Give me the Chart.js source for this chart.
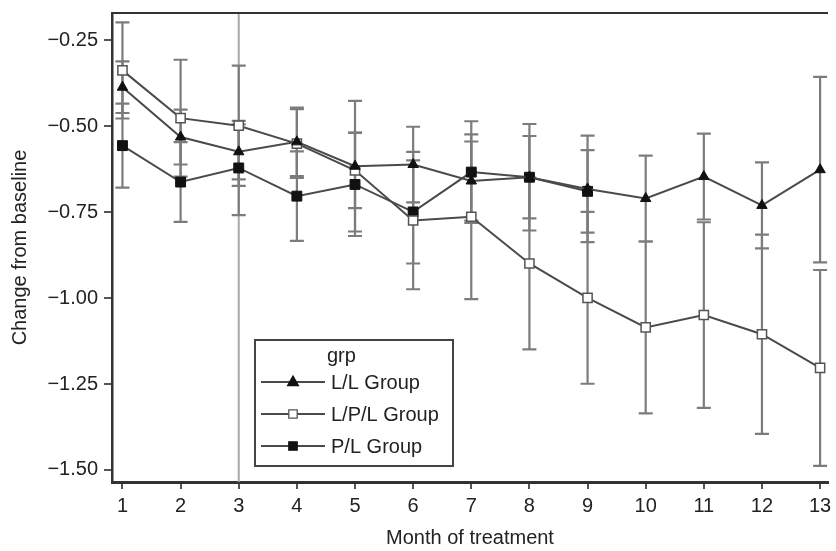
<!DOCTYPE html>
<html>
<head>
<meta charset="utf-8">
<script src="https://cdn.jsdelivr.net/npm/chart.js@4.4.1/dist/chart.umd.min.js"></script>
<style>
  body { margin: 0; background: #fff; }
</style>
</head>
<body>
<canvas id="chart" width="836" height="551"></canvas>
<script>
// months on the x axis
const months = [1, 2, 3, 4, 5, 6, 7, 8, 9, 10, 11, 12, 13];
const yTicks = [-0.25, -0.5, -0.75, -1.0, -1.25, -1.5];
const refMonth = 3;

// group means and half-widths of the error bars
const llMean = [-0.386, -0.531, -0.574, -0.545, -0.616, -0.611, -0.659, -0.648, -0.682, -0.710, -0.646, -0.730, -0.626];
const llErr = [0.075, 0.08, 0.08, 0.10, 0.19, 0.11, 0.115, 0.155, 0.155, 0.125, 0.125, 0.125, 0.27];
const lplMean = [-0.337, -0.476, -0.498, -0.55, -0.628, -0.774, -0.763, -0.899, -0.999, -1.085, -1.049, -1.105, -1.203];
const lplErr = [0.14, 0.17, 0.175, 0.10, 0.11, 0.20, 0.24, 0.25, 0.25, 0.25, 0.27, 0.29, 0.285];
const plMean = [-0.556, -0.662, -0.621, -0.703, -0.669, -0.749, -0.633, -0.648, -0.689];
const plErr = [0.122, 0.116, 0.137, 0.13, 0.15, 0.15, 0.148, 0.12, 0.12];

const groupLabels = ['L/L Group', 'L/P/L Group', 'P/L Group'];
const legendTitle = 'grp';

const FONT = '"Liberation Sans", Arial, sans-serif';
const LINE = '#4a4a4a';

const toPoints = (mean) => mean.map((v, i) => ({ x: months[i], y: v }));

// vertical line at month 3, error bars, top frame line
const extras = {
  id: 'extras',
  beforeDatasetsDraw(chart) {
    const { ctx, chartArea, scales: { x, y } } = chart;
    ctx.save();
    const rx = x.getPixelForValue(refMonth);
    ctx.strokeStyle = '#a8a8a8';
    ctx.lineWidth = 2;
    ctx.beginPath();
    ctx.moveTo(rx, chartArea.top);
    ctx.lineTo(rx, chartArea.bottom);
    ctx.stroke();

    ctx.strokeStyle = '#7c7c7c';
    ctx.lineWidth = 2.2;
    chart.data.datasets.forEach(ds => {
      ds.data.forEach((p, i) => {
        const e = ds.errors[i];
        const px = x.getPixelForValue(p.x);
        const top = y.getPixelForValue(p.y + e);
        const bot = y.getPixelForValue(p.y - e);
        ctx.beginPath();
        ctx.moveTo(px, top); ctx.lineTo(px, bot);
        ctx.moveTo(px - 7, top); ctx.lineTo(px + 7, top);
        ctx.moveTo(px - 7, bot); ctx.lineTo(px + 7, bot);
        ctx.stroke();
      });
    });
    ctx.restore();
  },
  afterDraw(chart) {
    const { ctx, chartArea } = chart;
    ctx.save();
    ctx.strokeStyle = '#333';
    ctx.lineWidth = 2;
    ctx.beginPath();
    ctx.moveTo(chartArea.left, chartArea.top);
    ctx.lineTo(chartArea.right, chartArea.top);
    ctx.stroke();
    ctx.restore();
  }
};

function marker(ctx, style, x, y, r, fill, stroke) {
  ctx.beginPath();
  if (style === 'triangle') {
    ctx.moveTo(x, y - r);
    ctx.lineTo(x + r * 0.9, y + r * 0.6);
    ctx.lineTo(x - r * 0.9, y + r * 0.6);
    ctx.closePath();
  } else {
    ctx.rect(x - r * 0.7, y - r * 0.7, r * 1.4, r * 1.4);
  }
  ctx.fillStyle = fill;
  ctx.fill();
  ctx.strokeStyle = stroke;
  ctx.lineWidth = 1.3;
  ctx.stroke();
}

// boxed legend inside the plot
const boxLegend = {
  id: 'boxLegend',
  afterDraw(chart) {
    const { ctx } = chart;
    const bx = 255, by = 340, bw = 198, bh = 126;
    ctx.save();
    ctx.fillStyle = '#fff';
    ctx.fillRect(bx, by, bw, bh);
    ctx.strokeStyle = '#444';
    ctx.lineWidth = 2;
    ctx.strokeRect(bx, by, bw, bh);
    ctx.fillStyle = '#222';
    ctx.font = '20px ' + FONT;
    ctx.textBaseline = 'alphabetic';
    ctx.fillText(legendTitle, 327, 362);
    chart.data.datasets.forEach((ds, i) => {
      const cy = 382 + i * 32;
      ctx.strokeStyle = LINE;
      ctx.lineWidth = 2;
      ctx.beginPath();
      ctx.moveTo(261, cy);
      ctx.lineTo(325, cy);
      ctx.stroke();
      marker(ctx, ds.pointStyle, 293, cy, 6, ds.pointBackgroundColor, ds.pointBorderColor);
      ctx.fillStyle = '#222';
      ctx.textBaseline = 'middle';
      ctx.fillText(ds.label, 331, cy + 1);
    });
    ctx.restore();
  }
};

new Chart(document.getElementById('chart'), {
  type: 'line',
  data: {
    datasets: [
      {
        label: groupLabels[0], data: toPoints(llMean), errors: llErr,
        borderColor: LINE, borderWidth: 2,
        pointStyle: 'triangle', pointRadius: 6,
        pointBackgroundColor: '#111', pointBorderColor: '#111', pointBorderWidth: 1
      },
      {
        label: groupLabels[1], data: toPoints(lplMean), errors: lplErr,
        borderColor: LINE, borderWidth: 2,
        pointStyle: 'rect', pointRadius: 6.5,
        pointBackgroundColor: '#fff', pointBorderColor: '#555', pointBorderWidth: 1.5
      },
      {
        label: groupLabels[2], data: toPoints(plMean), errors: plErr,
        borderColor: LINE, borderWidth: 2,
        pointStyle: 'rect', pointRadius: 7,
        pointBackgroundColor: '#111', pointBorderColor: '#111', pointBorderWidth: 1
      }
    ]
  },
  options: {
    responsive: false,
    animation: false,
    layout: { padding: { top: 13, left: 0, right: 0, bottom: 0 } },
    plugins: {
      legend: { display: false },
      tooltip: { enabled: false }
    },
    scales: {
      x: {
        type: 'linear',
        min: 0.82,
        max: 13.136,
        afterBuildTicks: s => { s.ticks = months.map(v => ({ value: v })); },
        afterFit: s => { s.height = 69; s.paddingLeft = 0; s.paddingRight = 0; },
        ticks: {
          color: '#222',
          font: { family: FONT, size: 20 },
          padding: 5,
          maxRotation: 0,
          autoSkip: false
        },
        grid: { drawOnChartArea: false, tickLength: 7, color: '#555', lineWidth: 2 },
        border: { display: true, color: '#333', width: 3 },
        title: {
          display: true,
          text: 'Month of treatment',
          color: '#222',
          font: { family: FONT, size: 20 },
          padding: { top: 0, bottom: 1 }
        }
      },
      y: {
        type: 'linear',
        min: -1.535,
        max: -0.17,
        afterBuildTicks: s => { s.ticks = yTicks.map(v => ({ value: v })); },
        afterFit: s => { s.width = 112; s.paddingTop = 0; s.paddingBottom = 0; },
        ticks: {
          color: '#222',
          font: { family: FONT, size: 20 },
          padding: 6,
          callback: v => (v < 0 ? '\u2212' : '') + Math.abs(v).toFixed(2)
        },
        grid: { drawOnChartArea: false, tickLength: 8, color: '#555', lineWidth: 2 },
        border: { display: true, color: '#333', width: 2.5 },
        title: {
          display: true,
          text: 'Change from baseline',
          color: '#222',
          font: { family: FONT, size: 20 },
          padding: { top: 8, bottom: 0 }
        }
      }
    }
  },
  plugins: [extras, boxLegend]
});
</script>
</body>
</html>
